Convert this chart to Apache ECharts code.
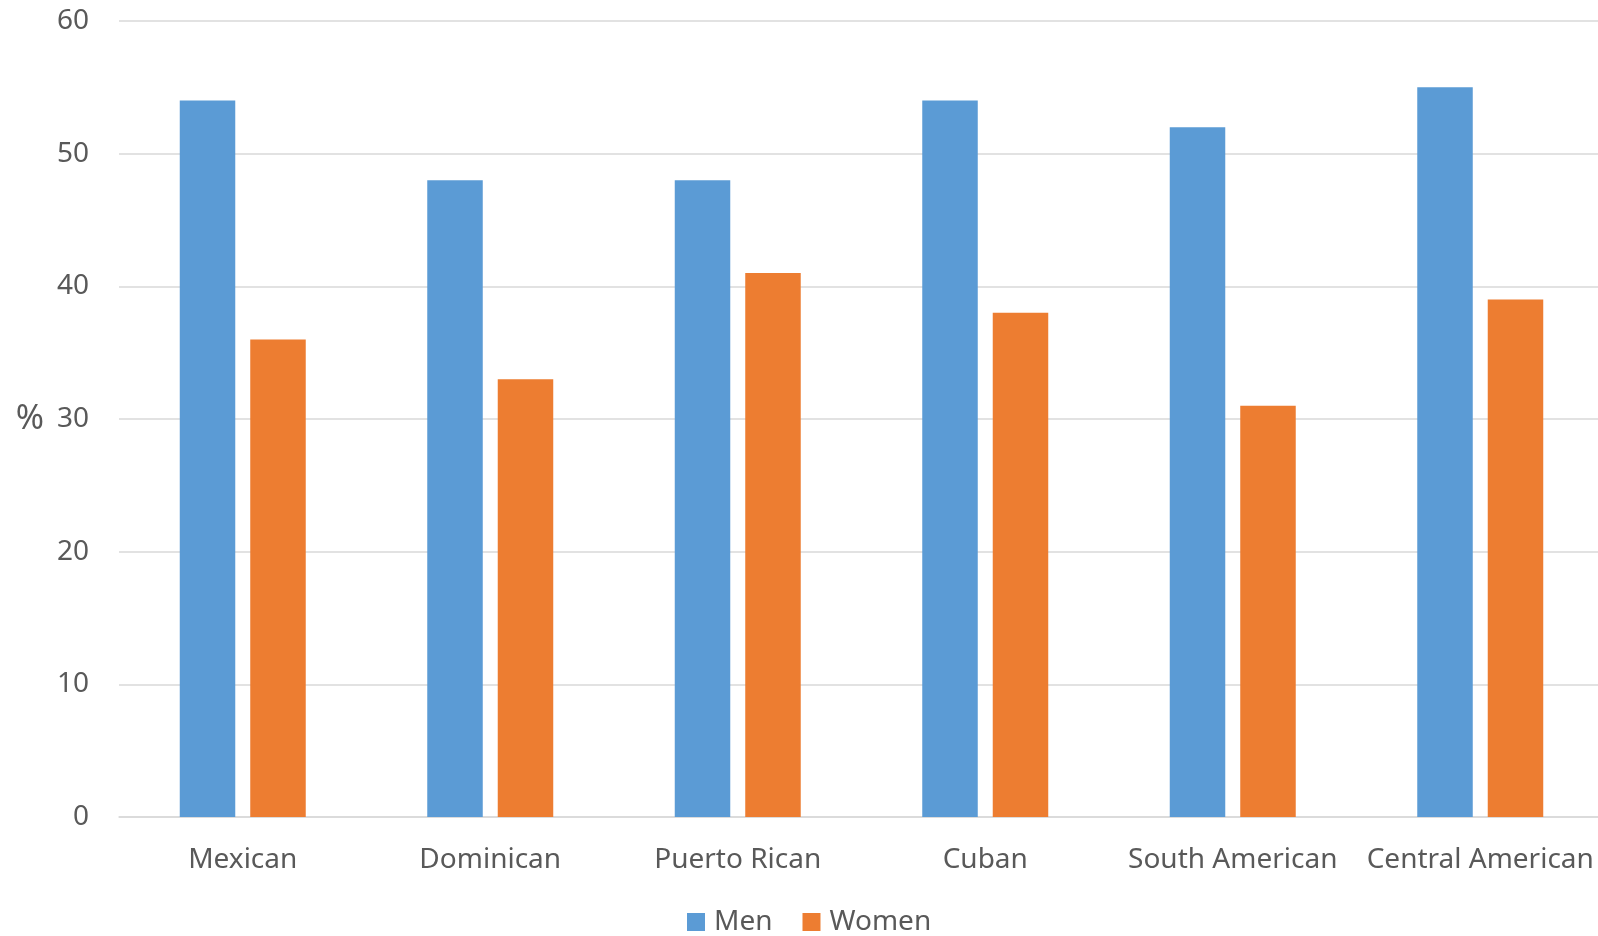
<!DOCTYPE html>
<html>
<head>
<meta charset="utf-8">
<script src="https://cdn.jsdelivr.net/npm/echarts@6/dist/echarts.min.js"></script>
<style>
  html, body { margin: 0; padding: 0; background: #fff; }
  #chart { width: 1598px; height: 936px; }
</style>
</head>
<body>
<div id="chart"></div>
<script>
// Share (%) by origin group, men vs women
const categories = ['Mexican', 'Dominican', 'Puerto Rican', 'Cuban', 'South American', 'Central American'];
const menValues = [54, 48, 48, 54, 52, 55];
const womenValues = [36, 33, 41, 38, 31, 39];
const yTicks = [0, 10, 20, 30, 40, 50, 60];

const FONT = '"Noto Sans", "Open Sans", sans-serif';
const TEXT = '#595959';
const GRID = '#D9D9D9';

const chart = echarts.init(document.getElementById('chart'));
chart.setOption({
  animation: false,
  textStyle: { fontFamily: FONT },
  grid: { left: 119, width: 1485, top: 21, bottom: 119, outerBoundsMode: 'none' },
  legend: {
    data: ['Men', 'Women'],
    left: 682,
    top: 903,
    itemWidth: 18,
    itemHeight: 18,
    itemGap: 30,
    icon: 'rect',
    textStyle: { fontFamily: FONT, fontSize: 28, color: TEXT, padding: [0, 0, 0, 4] }
  },
  xAxis: {
    type: 'category',
    data: categories,
    axisLine: { lineStyle: { color: GRID, width: 1.5 } },
    axisTick: { show: false },
    axisLabel: { fontFamily: FONT, fontSize: 28, color: TEXT, margin: 29, interval: 0 }
  },
  yAxis: {
    type: 'value',
    min: yTicks[0],
    max: yTicks[yTicks.length - 1],
    interval: 10,
    name: '%',
    nameLocation: 'middle',
    nameRotate: 0,
    nameGap: 75,
    nameTextStyle: { fontFamily: FONT, fontSize: 34, color: TEXT },
    axisLine: { show: false },
    axisTick: { show: false },
    axisLabel: { fontFamily: FONT, fontSize: 28, color: TEXT, margin: 30 },
    splitLine: { lineStyle: { color: GRID, width: 1.5 } }
  },
  series: [
    {
      name: 'Men',
      type: 'bar',
      data: menValues,
      barWidth: 55.5,
      barGap: '27%',
      itemStyle: { color: '#5B9BD5' }
    },
    {
      name: 'Women',
      type: 'bar',
      data: womenValues,
      barWidth: 55.5,
      itemStyle: { color: '#ED7D31' }
    }
  ]
});
</script>
</body>
</html>
